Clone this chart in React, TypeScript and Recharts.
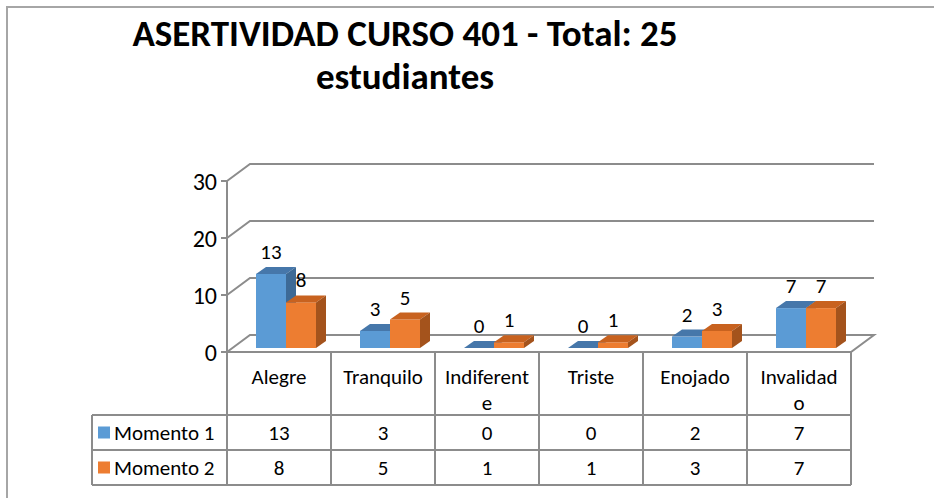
import { BarChart, Bar, XAxis, YAxis, CartesianGrid, LabelList } from "recharts";

const categories = ["Alegre", "Tranquilo", "Indiferente", "Triste", "Enojado", "Invalidado"];
// how each category label wraps inside its table cell
const categoryLines = [["Alegre"], ["Tranquilo"], ["Indiferent", "e"], ["Triste"], ["Enojado"], ["Invalidad", "o"]];
const momento1 = [13, 3, 0, 0, 2, 7];
const momento2 = [8, 5, 1, 1, 3, 7];
const seriesNames = ["Momento 1", "Momento 2"];
const yTicks = [0, 10, 20, 30];

const data = categories.map((name, i) => ({ name, m1: momento1[i], m2: momento2[i] }));

const W = 934;
const H = 498;
const PLOT_LEFT = 227;
const PLOT_RIGHT = 851;
const PLOT_TOP = 181;
const PLOT_BOTTOM = 352;
const TABLE_BOTTOM = 485;
const LEGEND_LEFT = 92;
const CAT_ROW_H = 63;
const ROW_H = 35;
const COL_W = (PLOT_RIGHT - PLOT_LEFT) / categories.length;

// back wall offset and bar depth
const WX = 23;
const WY = 17;
const DX = 10;
const DY = 7;
const SHIFT_X = 7;
const SHIFT_Y = -4;

const FONT = "Carlito, Calibri, Lato, sans-serif";
const GRID = "#8c8c8c";
const BLUE = { face: "#5b9bd5", top: "#4677aa", side: "#3d6a96" };
const ORANGE = { face: "#ed7d31", top: "#c8621f", side: "#a4531c" };
const TABLE_FONT = 21;

function Column3D(props: any) {
  const { x, y, width, height, colors } = props;
  const fx = x + SHIFT_X;
  const fy = y + SHIFT_Y;
  const h = Math.max(height || 0, 0);
  return (
    <g>
      <rect x={fx} y={fy} width={width} height={h} fill={colors.face} />
      <polygon
        points={`${fx},${fy} ${fx + DX},${fy - DY} ${fx + width + DX},${fy - DY} ${fx + width},${fy}`}
        fill={colors.top}
      />
      <polygon
        points={`${fx + width},${fy} ${fx + width + DX},${fy - DY} ${fx + width + DX},${fy + h - DY} ${fx + width},${fy + h}`}
        fill={colors.side}
      />
    </g>
  );
}

const renderValue = (p: any) => {
  const vb = p.viewBox || p;
  const x = vb.x ?? p.x;
  const y = vb.y ?? p.y;
  const width = vb.width ?? p.width;
  return (
    <text
      x={x + width / 2 + SHIFT_X}
      y={y + SHIFT_Y - 22}
      textAnchor="middle"
      dominantBaseline="central"
      fontSize={21}
      fontFamily={FONT}
      fill="#000"
    >
      {p.value}
    </text>
  );
};

const renderGridLine = (p: any) => {
  const { x1, x2, y1 } = p;
  if (y1 >= PLOT_BOTTOM - 1) {
    return (
      <polygon
        key="floor"
        points={`${x1},${y1} ${x1 + WX},${y1 - WY} ${x2 + WX},${y1 - WY} ${x2},${y1}`}
        fill="none"
        stroke={GRID}
        strokeWidth={2}
      />
    );
  }
  return (
    <polyline
      key={`g-${y1}`}
      points={`${x1},${y1} ${x1 + WX},${y1 - WY} ${x2 + WX},${y1 - WY}`}
      fill="none"
      stroke={GRID}
      strokeWidth={2}
    />
  );
};

const renderTableColumn = (p: any) => {
  const { x, y, index } = p;
  const left = x - COL_W / 2;
  const right = x + COL_W / 2;
  const catBottom = y + CAT_ROW_H;
  const r1 = catBottom + ROW_H;
  const r2 = r1 + ROW_H;
  const values = [momento1[index], momento2[index]];
  const colors = [BLUE.face, ORANGE.face];
  const line = { stroke: GRID, strokeWidth: 2 };
  return (
    <g>
      <line x1={left} y1={y} x2={left} y2={r2} {...line} />
      <line x1={right} y1={y} x2={right} y2={r2} {...line} />
      <line x1={left} y1={catBottom} x2={right} y2={catBottom} {...line} />
      <line x1={left} y1={r1} x2={right} y2={r1} {...line} />
      <line x1={left} y1={r2} x2={right} y2={r2} {...line} />
      {categoryLines[index].map((t, i) => (
        <text
          key={t}
          x={x}
          y={y + 25 + i * 26}
          textAnchor="middle"
          dominantBaseline="central"
          fontSize={TABLE_FONT}
          fontFamily={FONT}
          fill="#000"
        >
          {t}
        </text>
      ))}
      {values.map((v, i) => (
        <text
          key={i}
          x={x}
          y={catBottom + ROW_H / 2 + i * ROW_H}
          textAnchor="middle"
          dominantBaseline="central"
          fontSize={TABLE_FONT}
          fontFamily={FONT}
          fill="#000"
        >
          {v}
        </text>
      ))}
      {index === 0 && (
        <g>
          <line x1={LEGEND_LEFT} y1={catBottom} x2={left} y2={catBottom} {...line} />
          <line x1={LEGEND_LEFT} y1={r1} x2={left} y2={r1} {...line} />
          <line x1={LEGEND_LEFT} y1={r2} x2={left} y2={r2} {...line} />
          <line x1={LEGEND_LEFT} y1={catBottom} x2={LEGEND_LEFT} y2={r2} {...line} />
          {seriesNames.map((s, i) => {
            const cy = catBottom + ROW_H / 2 + i * ROW_H;
            return (
              <g key={s}>
                <rect x={LEGEND_LEFT + 6} y={cy - 6} width={12} height={12} fill={colors[i]} />
                <text
                  x={LEGEND_LEFT + 22}
                  y={cy}
                  dominantBaseline="central"
                  fontSize={TABLE_FONT}
                  fontFamily={FONT}
                  fill="#000"
                >
                  {s}
                </text>
              </g>
            );
          })}
        </g>
      )}
    </g>
  );
};

export default function App() {
  return (
    <div style={{ position: "absolute", top: 0, left: 0, width: W, height: H, background: "#fff", overflow: "hidden" }}>
      <div
        style={{
          position: "absolute",
          left: 6,
          top: 6,
          width: W,
          height: H,
          borderTop: "2px solid #a6a6a6",
          borderLeft: "2px solid #a6a6a6",
        }}
      />
      <div
        style={{
          position: "absolute",
          left: 55,
          top: 12,
          width: 700,
          textAlign: "center",
          fontFamily: FONT,
          fontWeight: 700,
          fontSize: 37,
          lineHeight: "43px",
          color: "#000",
        }}
      >
        ASERTIVIDAD CURSO 401 - Total: 25
        <br />
        estudiantes
      </div>
      <div style={{ position: "absolute", left: 0, top: 0 }}>
        <BarChart
          width={W}
          height={H}
          data={data}
          margin={{ top: PLOT_TOP, right: W - PLOT_RIGHT, bottom: H - TABLE_BOTTOM, left: 0 }}
          barSize={30}
          barGap={0}
        >
          <CartesianGrid vertical={false} horizontal={renderGridLine} />
          <YAxis
            width={PLOT_LEFT}
            domain={[0, 30]}
            ticks={yTicks}
            interval={0}
            tickSize={6}
            tickMargin={4}
            axisLine={{ stroke: GRID, strokeWidth: 2 }}
            tickLine={{ stroke: GRID, strokeWidth: 2 }}
            tick={{ fontSize: 24, fontFamily: FONT, fill: "#000" }}
          />
          <XAxis
            dataKey="name"
            height={TABLE_BOTTOM - PLOT_BOTTOM}
            interval={0}
            tickSize={0}
            tickMargin={0}
            axisLine={false}
            tickLine={false}
            tick={renderTableColumn}
          />
          <Bar dataKey="m1" name={seriesNames[0]} isAnimationActive={false} shape={(p: any) => <Column3D {...p} colors={BLUE} />}>
            <LabelList dataKey="m1" content={renderValue} />
          </Bar>
          <Bar dataKey="m2" name={seriesNames[1]} isAnimationActive={false} shape={(p: any) => <Column3D {...p} colors={ORANGE} />}>
            <LabelList dataKey="m2" content={renderValue} />
          </Bar>
        </BarChart>
      </div>
    </div>
  );
}
